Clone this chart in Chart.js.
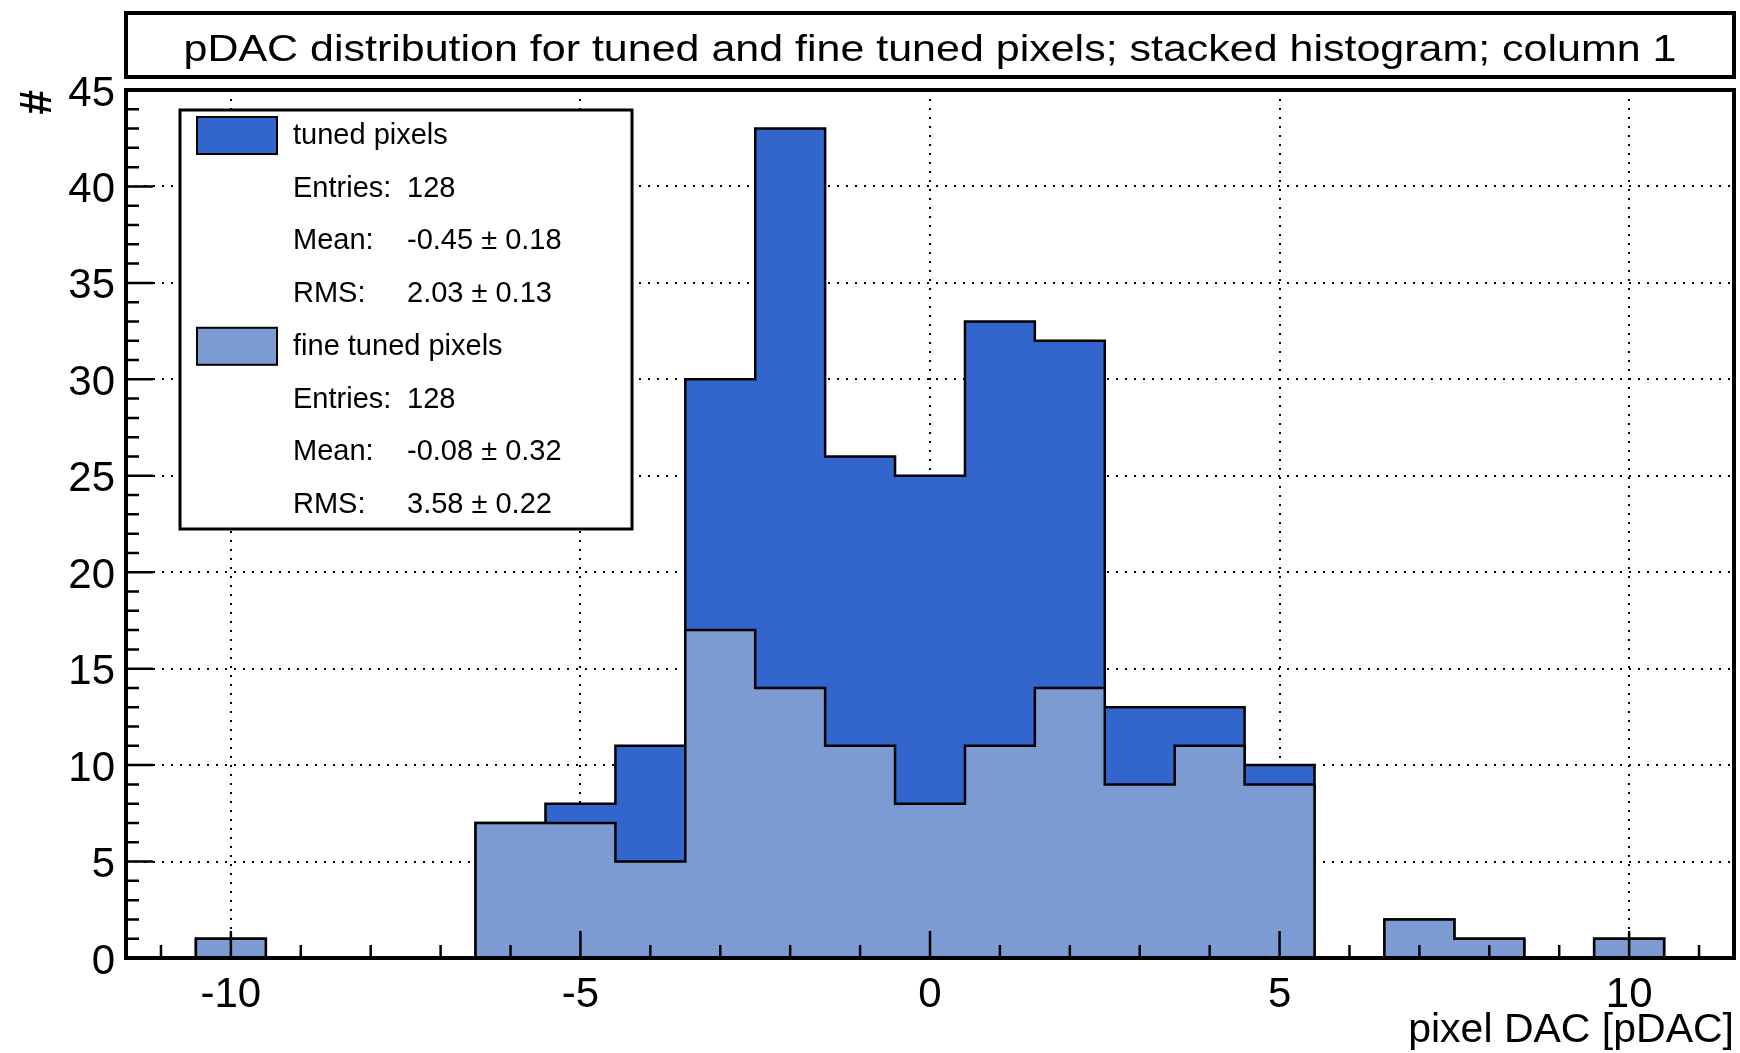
<!DOCTYPE html>
<html>
<head>
<meta charset="utf-8">
<title>pDAC distribution</title>
<script src="https://cdn.jsdelivr.net/npm/chart.js@4.4.1/dist/chart.umd.min.js"></script>
<style>
    html, body { margin: 0; padding: 0; background: #fff; }
    canvas { display: block; }
</style>
</head>
<body>
<canvas id="hist" width="1740" height="1053"></canvas>
<script>
// pDAC stacked histogram (column 1)

const CHART_TITLE = "pDAC distribution for tuned and fine tuned pixels; stacked histogram; column 1";
const X_TITLE = "pixel DAC [pDAC]";
const Y_TITLE = "#";

// bin centers (bin width 1)
const binCenters = [-11, -10, -9, -8, -7, -6, -5, -4, -3, -2, -1, 0, 1, 2, 3, 4, 5, 6, 7, 8, 9, 10, 11];
// counts per bin
const fineTunedCounts = [0, 1, 0, 0, 0, 7, 7, 5, 17, 14, 11, 8, 11, 14, 9, 11, 9, 0, 2, 1, 0, 1, 0];
const tunedCounts     = [0, 0, 0, 0, 0, 0, 1, 6, 13, 29, 15, 17, 22, 18, 4, 2, 1, 0, 0, 0, 0, 0, 0];

const xTickValues = [-10, -5, 0, 5, 10];
const yTickValues = [0, 5, 10, 15, 20, 25, 30, 35, 40, 45];

const FONT = "'Liberation Sans', Arial, Helvetica, sans-serif";
const TUNED_COLOR = "#3366cc";
const FINE_COLOR = "#7b9bd2";

// ------------------------------------------------------------
// stats box values (ROOT style)
// ------------------------------------------------------------
function histStats(counts) {
    const n = counts.reduce((s, v) => s + v, 0);
    const mean = counts.reduce((s, v, i) => s + v * binCenters[i], 0) / n;
    const rms = Math.sqrt(counts.reduce((s, v, i) => s + v * (binCenters[i] - mean) ** 2, 0) / n);
    return {
        entries: String(n),
        mean: `${mean.toFixed(2)} ± ${(rms / Math.sqrt(n)).toFixed(2)}`,
        rms: `${rms.toFixed(2)} ± ${(rms / Math.sqrt(2 * n)).toFixed(2)}`,
    };
}

const legendEntries = [
    { name: "tuned pixels", color: TUNED_COLOR, stats: histStats(tunedCounts) },
    { name: "fine tuned pixels", color: FINE_COLOR, stats: histStats(fineTunedCounts) },
];

function toPoints(counts) {
    return binCenters.map((x, i) => ({ x, y: counts[i] }));
}

// ------------------------------------------------------------
// frame, inner ticks, title box, stats legend
// ------------------------------------------------------------
const rootDecor = {
    id: "rootDecor",
    afterDatasetsDraw(chart) {
        const { ctx, chartArea: a, scales: { x, y } } = chart;
        ctx.save();
        ctx.strokeStyle = "#000";
        ctx.lineWidth = 2.5;
        ctx.beginPath();
        for (let v = Math.ceil(x.min); v <= Math.floor(x.max); v++) {
            const px = x.getPixelForValue(v);
            ctx.moveTo(px, a.bottom);
            ctx.lineTo(px, a.bottom - (v % 5 === 0 ? 27 : 13));
        }
        for (let v = y.min; v <= y.max; v++) {
            const py = y.getPixelForValue(v);
            ctx.moveTo(a.left, py);
            ctx.lineTo(a.left + (v % 5 === 0 ? 27 : 13), py);
        }
        ctx.stroke();
        ctx.lineWidth = 4;
        ctx.strokeRect(a.left, a.top, a.right - a.left, a.bottom - a.top);
        ctx.restore();
    },
    afterDraw(chart) {
        const { ctx, chartArea: a } = chart;
        ctx.save();

        // title box
        ctx.strokeStyle = "#000";
        ctx.lineWidth = 4;
        ctx.strokeRect(a.left, 13, a.right - a.left, 64);
        ctx.fillStyle = "#000";
        ctx.font = `37px ${FONT}`;
        ctx.textAlign = "center";
        ctx.textBaseline = "alphabetic";
        // ROOT's Helvetica comes out wider: stretch the title to its box span
        const sx = 1493 / ctx.measureText(CHART_TITLE).width;
        ctx.save();
        ctx.translate((a.left + a.right) / 2, 61);
        ctx.scale(sx, 1);
        ctx.fillText(CHART_TITLE, 0, 0);
        ctx.restore();

        // legend box
        const box = { left: 180, top: 110, right: 632, bottom: 529 };
        ctx.fillStyle = "#fff";
        ctx.fillRect(box.left, box.top, box.right - box.left, box.bottom - box.top);
        ctx.lineWidth = 3;
        ctx.strokeRect(box.left, box.top, box.right - box.left, box.bottom - box.top);

        ctx.font = `29px ${FONT}`;
        ctx.textAlign = "left";
        const step = 52.7;
        let base = 144;
        legendEntries.forEach(e => {
            ctx.fillStyle = e.color;
            ctx.fillRect(197, base - 27, 80, 37);
            ctx.lineWidth = 2;
            ctx.strokeStyle = "#000";
            ctx.strokeRect(197, base - 27, 80, 37);
            ctx.fillStyle = "#000";
            ctx.fillText(e.name, 293, base);
            const rows = [["Entries:", e.stats.entries], ["Mean:", e.stats.mean], ["RMS:", e.stats.rms]];
            rows.forEach((r, i) => {
                const yb = base + step * (i + 1);
                ctx.fillText(r[0], 293, yb);
                ctx.fillText(r[1], 407, yb);
            });
            base += step * 4;
        });
        ctx.restore();
    },
};

// ------------------------------------------------------------
// chart
// ------------------------------------------------------------
Chart.defaults.font.family = FONT;
Chart.defaults.color = "#000";

const outline = { borderColor: "#000", borderWidth: 2.5, stepped: "middle", pointRadius: 0, tension: 0 };

new Chart(document.getElementById("hist"), {
    type: "line",
    data: {
        datasets: [
            { ...outline, label: "fine tuned pixels", data: toPoints(fineTunedCounts), backgroundColor: FINE_COLOR, fill: "origin" },
            { ...outline, label: "tuned pixels", data: toPoints(tunedCounts), backgroundColor: TUNED_COLOR, fill: "-1" },
        ],
    },
    options: {
        responsive: false,
        animation: false,
        events: [],
        layout: { padding: { top: 90, right: 6, left: 0, bottom: 0 } },
        plugins: {
            legend: { display: false },
            tooltip: { enabled: false },
        },
        scales: {
            x: {
                type: "linear",
                min: -11.5,
                max: 11.5,
                afterBuildTicks: s => { s.ticks = xTickValues.map(v => ({ value: v })); },
                afterFit: s => { s.height = 95; },
                grid: { color: "#000", lineWidth: 2, drawTicks: false },
                border: { display: false, dash: [2, 7] },
                ticks: { font: { size: 42 }, padding: 12, maxRotation: 0, autoSkip: false },
                title: { display: true, text: X_TITLE, align: "end", font: { size: 41 }, padding: { top: 0, bottom: -2 } },
            },
            y: {
                stacked: true,
                min: 0,
                max: 45,
                afterBuildTicks: s => { s.ticks = yTickValues.map(v => ({ value: v })); },
                afterFit: s => { s.width = 126; },
                grid: { color: "#000", lineWidth: 2, drawTicks: false },
                border: { display: false, dash: [2, 7] },
                ticks: { font: { size: 42 }, padding: 11, labelOffset: 4, autoSkip: false },
                title: { display: true, text: Y_TITLE, align: "end", font: { size: 44, weight: "bold" }, padding: { top: 12, bottom: 0 } },
            },
        },
    },
    plugins: [rootDecor],
});
</script>
</body>
</html>
